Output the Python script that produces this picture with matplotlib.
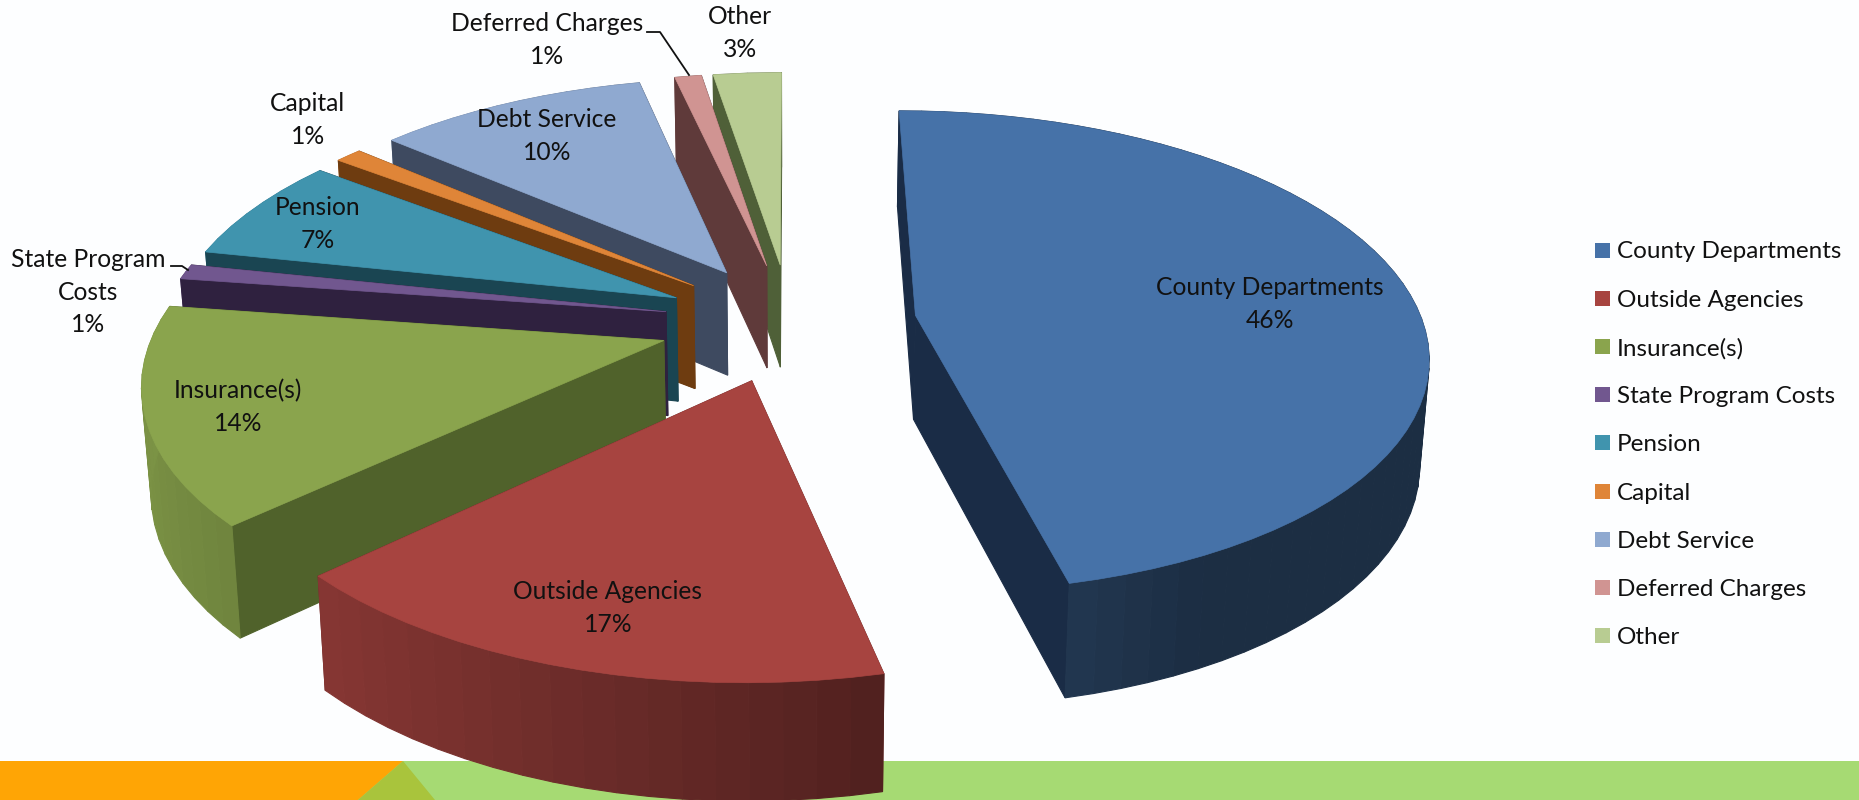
import numpy as np
import matplotlib
matplotlib.use('Agg')
import matplotlib.pyplot as plt
from matplotlib.patches import Polygon, Rectangle

categories = ['County Departments', 'Outside Agencies', 'Insurance(s)', 'State Program Costs',
              'Pension', 'Capital', 'Debt Service', 'Deferred Charges', 'Other']
values = [46.4, 16.6, 14.3, 1.0, 7.0, 1.0, 10.15, 1.0, 2.55]
top_colors = ['#4672A8', '#A74440', '#8AA44D', '#71578F', '#4094AE', '#DF8538', '#8FA9D0', '#D09492', '#B8CC92']
wall_colors = ['#1A2C46', '#6E2B29', '#50622B', '#2F213F', '#1A4552', '#6E3C10', '#3E4A60', '#5F3A3A', '#4F6038']
explode = [0.25, 0.25, 0.258, 0.25, 0.25, 0.25, 0.25, 0.25, 0.25]
draw_order = [8, 7, 6, 5, 4, 3, 2, 0, 1]

# pie geometry in pixels of the 1859x800 canvas
CX, CY = 790, 322
A, B = 507, 237
K = 0.15


def project(X, Y, bottom=False):
    w = 1 + K * Y
    x = CX + A * X / w
    y = CY - B * Y / w
    if bottom:
        x = CX + (x - CX) * 0.985
        y = 1.039 * y + 91.7
    return x, y


def quad(ax, a, b, color, z):
    # wall between two ground points a and b
    p1 = project(*a)
    p2 = project(*b)
    p3 = project(*b, bottom=True)
    p4 = project(*a, bottom=True)
    ax.add_patch(Polygon([p1, p2, p3, p4], closed=True, fc=color, ec=color, lw=0.8, zorder=z))


def shade(color, f):
    r, g, b = matplotlib.colors.to_rgb(color)
    return (r * f, g * f, b * f)


fig = plt.figure(figsize=(18.59, 8), dpi=100, facecolor='#FDFEFF')
ax = fig.add_axes([0, 0, 1, 1])
ax.set_xlim(0, 1859)
ax.set_ylim(800, 0)
ax.axis('off')

# bottom band
ax.add_patch(Rectangle((0, 761), 403, 39, fc='#FFA505', ec='none', zorder=1))
ax.add_patch(Polygon([(403, 761), (1859, 761), (1859, 800), (358, 800)], fc='#A6DA73', ec='none', zorder=1))
ax.add_patch(Polygon([(403, 761), (435, 800), (358, 800)], fc='#A9C43C', ec='none', zorder=2))

fracs = np.array(values) / sum(values)
edges = np.concatenate([[0], np.cumsum(fracs)]) * 2 * np.pi

z = 3
for i in draw_order:
    t0, t1 = edges[i], edges[i + 1]
    mid = (t0 + t1) / 2
    ox, oy = explode[i] * np.sin(mid), explode[i] * np.cos(mid)
    ts = np.linspace(t0, t1, max(int((t1 - t0) * 20), 3))
    rim = [(ox + np.sin(t), oy + np.cos(t)) for t in ts]
    # back part of the outer wall goes under the straight walls, front part over them
    for front in [False, True]:
        for j in range(len(rim) - 1):
            tm = (ts[j] + ts[j + 1]) / 2
            if (np.cos(tm) < 0) != front:
                continue
            f = np.clip(0.555 - 0.34 * np.sin(tm), 0.4, 0.9)
            quad(ax, rim[j], rim[j + 1], shade(top_colors[i], f), z + (0.2 if front else 0))
    quad(ax, (ox, oy), rim[0], wall_colors[i], z + 0.1)
    quad(ax, (ox, oy), rim[-1], wall_colors[i], z + 0.1)
    pts = [project(ox, oy)] + [project(*p) for p in rim]
    ax.add_patch(Polygon(pts, closed=True, fc=top_colors[i], ec=top_colors[i], lw=0.5, zorder=z + 0.5))
    z += 1

# data labels
font = 'Lato'
names = ['County Departments', 'Outside Agencies', 'Insurance(s)', 'State Program\nCosts',
         'Pension', 'Capital', 'Debt Service', 'Deferred Charges', 'Other']
label_pos = [(1270, 304), (608, 608), (238, 407), (88, 292), (318, 224), (308, 120), (547, 136), (547, 40), (740, 33)]
for name, v, (x, y) in zip(names, values, label_pos):
    ax.text(x, y, f'{name}\n{round(v)}%', ha='center', va='center', fontsize=17.7, family=font,
            color='#111111', linespacing=1.5, zorder=50)

# leader lines
ax.plot([171, 182, 188], [266, 266, 270], color='#111111', lw=1.3, zorder=50)
ax.plot([647, 660, 689], [32, 32, 75], color='#111111', lw=1.3, zorder=50)

# legend
for i, name in enumerate(categories):
    y = 250 + i * 48.2
    ax.add_patch(Rectangle((1595, y - 7.5), 15, 15, fc=top_colors[i], ec='none', zorder=50))
    ax.text(1617, y + 2, name, ha='left', va='center', fontsize=17.5, family=font, color='#111111', zorder=50)

fig.savefig('out.png', dpi=100, facecolor=fig.get_facecolor())
